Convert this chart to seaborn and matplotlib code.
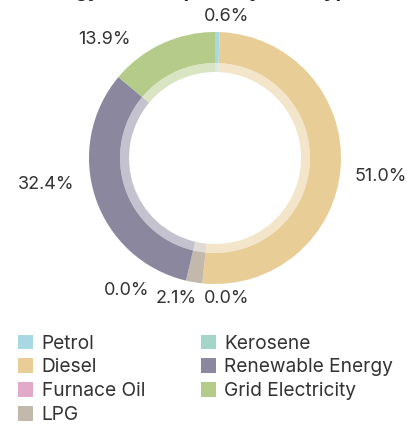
import matplotlib
matplotlib.use("Agg")
import matplotlib.pyplot as plt
import seaborn as sns
from matplotlib.patches import Patch

# data
sources = ["Petrol", "Diesel", "Furnace Oil", "LPG", "Kerosene", "Renewable Energy", "Grid Electricity"]
shares = [0.6, 51.0, 0.0, 2.1, 0.0, 32.4, 13.9]
colors = ["#a8d9e3", "#e8cd96", "#e2a9c9", "#c2b8ab", "#a3d6c9", "#8b879e", "#b4cb89"]

# label positions in pie units (radius = 1)
label_pos = [(0.095, 1.12), (1.317, -0.143), (0.091, -1.115), (-0.306, -1.115),
             (-0.702, -1.048), (-1.337, -0.21), (-0.881, 0.944)]

sns.set_theme(style="white")
plt.rcParams["font.family"] = ["Inter", "DejaVu Sans"]

W, H = 407, 426
fig = plt.figure(figsize=(W / 100, H / 100), dpi=100)
cx, cy, r = 215, 158, 126
ax = fig.add_axes([(cx - r) / W, (H - cy - r) / H, 2 * r / W, 2 * r / H])

pal = sns.color_palette(colors)
ax.pie(shares, colors=pal, startangle=90, counterclock=False, radius=1,
       wedgeprops=dict(width=31 / r, linewidth=0))
ax.pie(shares, colors=pal, startangle=90, counterclock=False, radius=95 / r,
       wedgeprops=dict(width=9 / r, linewidth=0, alpha=0.5))
ax.set_xlim(-1, 1)
ax.set_ylim(-1, 1)
ax.set_aspect("equal")
ax.axis("off")

for v, (x, y) in zip(shares, label_pos):
    ax.text(x, y, f"{v:.1f}%", ha="center", va="center", fontsize=13,
            color="#333333", clip_on=False)

# title mostly cropped off the top
fig.text(cx / W, 1 + 2.8 / H, "Energy Consumption by Fuel Type (%)", ha="center",
         va="baseline", fontsize=14, fontweight="bold", color="#222222")

handles = [Patch(facecolor=c, edgecolor="none") for c in colors]
fig.legend(handles, sources, loc="upper left", bbox_to_anchor=(8 / W, 1 - 325 / H),
           ncol=2, frameon=False, borderpad=0, labelspacing=0.3,
           handlelength=0.8, handleheight=0.8, handletextpad=0.45,
           columnspacing=2.9, labelcolor="#333333", prop={"size": 13.8})

fig.savefig("out.png", dpi=100)
